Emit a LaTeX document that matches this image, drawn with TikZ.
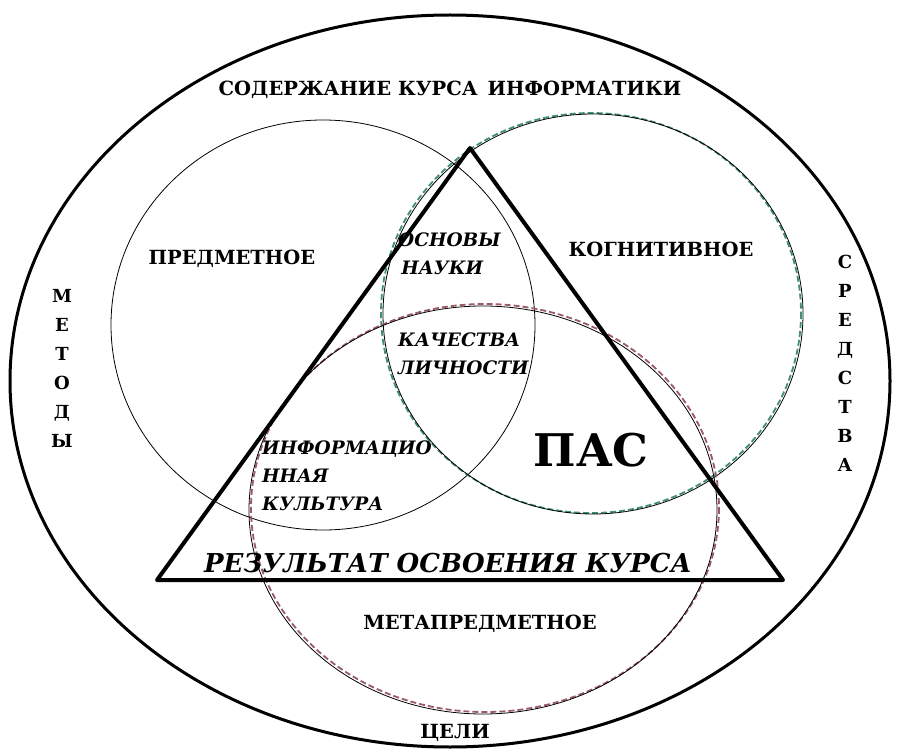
\documentclass[tikz,border=0pt]{standalone}
\usepackage{fontspec}
\setmainfont{DejaVu Serif}
\newfontfamily\ruserif{DejaVu Serif}
\usetikzlibrary{positioning}
\definecolor{cogngreen}{HTML}{3F8F73}
\definecolor{metared}{HTML}{9A5A66}
\tikzset{
  lbl/.style={font=\ruserif\fontsize{19.5}{22}\selectfont\bfseries,inner sep=0pt},
  itl/.style={font=\ruserif\fontsize{18.5}{28}\selectfont\bfseries\itshape,align=left,inner sep=0pt,anchor=north west},
  vlbl/.style={font=\ruserif\fontsize{18}{29}\selectfont\bfseries,align=center,inner sep=0pt,anchor=north},
  rim/.style={draw=black,line width=3pt},
  ring/.style={draw=black,line width=0.8pt},
  gring/.style={draw=cogngreen,line width=1.8pt,dash pattern=on 6pt off 3pt},
  rring/.style={draw=metared,line width=1.8pt,dash pattern=on 6pt off 3pt},
  tri/.style={draw=black,line width=4pt,line join=round}}
\begin{document}
\begin{tikzpicture}[x=1pt,y=-1pt]
  \useasboundingbox (0,0) rectangle (897,751);
  % outer field and the three circles
  \draw[rim] (450,381) ellipse [x radius=440, y radius=366];
  \draw[ring] (323,325) ellipse [x radius=212, y radius=205];
  \draw[gring] (591,313) ellipse [x radius=210, y radius=200];
  \draw[ring] (593,314) ellipse [x radius=210, y radius=200];
  \draw[rring] (485,508) ellipse [x radius=234, y radius=204];
  \draw[ring] (483,510) ellipse [x radius=234, y radius=204];
  % triangle
  \coordinate (apex) at (470,148);
  \coordinate (bl) at (157,580);
  \coordinate (br) at (783,580);
  \draw[tri] (apex) -- (bl) -- (br) -- cycle;
  % labels
  \node[lbl] (content) at (450,90) {СОДЕРЖАНИЕ КУРСА\, ИНФОРМАТИКИ};
  \node[lbl] (subj) at (232,259) {ПРЕДМЕТНОЕ};
  \node[lbl] (cogn) at (661,249) {КОГНИТИВНОЕ};
  \node[lbl] (meta) at (480,624) {МЕТАПРЕДМЕТНОЕ};
  \node[lbl] (goals) at (455,733) {ЦЕЛИ};
  \node[itl] (basis) at (398,233) {ОСНОВЫ\\\,НАУКИ};
  \node[itl] (qual) at (398,333) {КАЧЕСТВА\\ЛИЧНОСТИ};
  \node[itl] (info) at (262,441) {ИНФОРМАЦИО\\ННАЯ\\КУЛЬТУРА};
  \node[font=\ruserif\fontsize{45}{45}\selectfont\bfseries,inner sep=0pt] (pas) at (591,450) {ПАС};
  \node[font=\ruserif\fontsize{26}{30}\selectfont\bfseries\itshape,inner sep=0pt] (result) at (448,563) {РЕЗУЛЬТАТ ОСВОЕНИЯ КУРСА};
  \node[vlbl] (methods) at (62,289) {М\\Е\\Т\\О\\Д\\Ы};
  \node[vlbl] (means) at (845,255) {С\\Р\\Е\\Д\\С\\Т\\В\\А};
\end{tikzpicture}
\end{document}
